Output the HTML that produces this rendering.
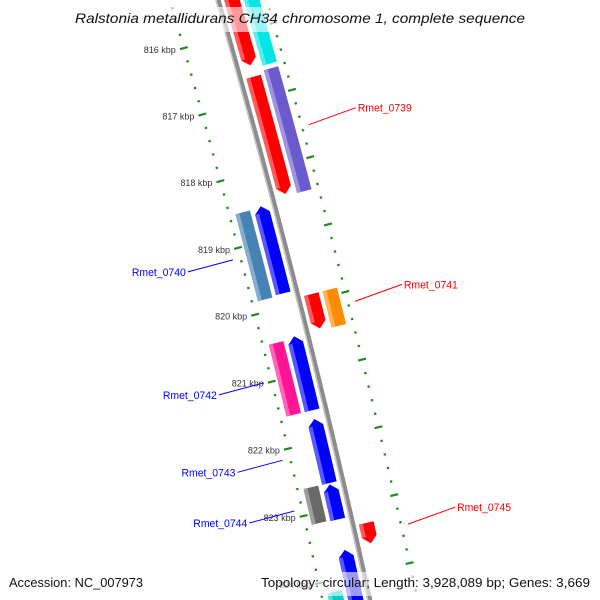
<!DOCTYPE html>
<html><head><meta charset="utf-8"><style>
html,body{margin:0;padding:0;background:#fff;width:600px;height:600px;overflow:hidden;}
svg{display:block;font-family:"Liberation Sans",sans-serif;overflow:hidden;}
</style></head><body>
<svg id="map" width="600" height="600" viewBox="0 0 600 600" xmlns="http://www.w3.org/2000/svg">
<g id="rulers"></g>
<g id="genes"></g>
<g id="backbone"></g>
<g id="labels"></g>
<g id="overlay">
<rect x="70" y="7" width="460" height="25" fill="#fff" fill-opacity="0.6"/>
<text x="75" y="23" font-size="14" font-style="italic" fill="#111" textLength="450" lengthAdjust="spacingAndGlyphs">Ralstonia metallidurans CH34 chromosome 1, complete sequence</text>
<rect x="5" y="572" width="143" height="24" fill="#fff" fill-opacity="0.6"/>
<text x="9" y="587" font-size="13" fill="#111" textLength="134" lengthAdjust="spacingAndGlyphs">Accession: NC_007973</text>
<rect x="256" y="572" width="340" height="24" fill="#fff" fill-opacity="0.6"/>
<text x="261" y="587" font-size="13" fill="#111" textLength="329" lengthAdjust="spacingAndGlyphs">Topology: circular; Length: 3,928,089 bp; Genes: 3,669</text>
</g>
</svg>
<script>
// ---- data ----
const geneNames  = ["gene-a","cog-a","Rmet_0739","cog-0739","Rmet_0740","cog-0740","Rmet_0741","cog-0741","Rmet_0742","cog-0742","Rmet_0743","Rmet_0744","cog-0744","Rmet_0745","gene-b","cog-b"];
const geneStarts = [815.0,815.0,816.67,816.62,818.50,818.52,819.91,819.91,820.44,820.47,821.67,822.64,822.62,823.30,823.61,824.17];
const geneEnds   = [816.50,816.55,818.42,818.45,819.80,819.82,820.42,820.45,821.54,821.54,822.62,823.16,823.15,823.60,825.0,825.0];
const geneLanes  = [1,2,1,2,-1,-2,1,2,-1,-2,-1,-1,-2,1,-1,-2];
const geneColors = ["#ff0000","#00e5e5","#ff0000","#6a5acd","#0000ff","#4682b4","#ff0000","#ff8c00","#0000ff","#ff1493","#0000ff","#0000ff","#696969","#ff0000","#0000ff","#00cccc"];
const labelled   = [false,false,true,false,true,false,true,false,true,false,true,true,false,true,false,false];
const majorTicks = [815,816,817,818,819,820,821,822,823,824,825];
const tickLabels = ["815 kbp","816 kbp","817 kbp","818 kbp","819 kbp","820 kbp","821 kbp","822 kbp","823 kbp","824 kbp","825 kbp"];

// ---- axis (circular map projection) ----
const CX=-9202.4, CY=2701.3, R=9800, PHI0=74.216, DPHI=0.4053, K0=816;
function pos(k,r){const p=(PHI0+(k-K0)*DPHI)*Math.PI/180;return [CX+(R+r)*Math.sin(p),CY-(R+r)*Math.cos(p)];}
const NS="http://www.w3.org/2000/svg";
function mk(tag,parent){const e=document.createElementNS(NS,tag);parent.appendChild(e);return e;}
function arcPts(k1,k2,r,n){const a=[];for(let i=0;i<=n;i++){a.push(pos(k1+(k2-k1)*i/n,r));}return a;}
function pstr(a){return a.map(p=>p[0].toFixed(2)+","+p[1].toFixed(2)).join(" ");}
function lighten(c,f){const n=parseInt(c.slice(1),16);let r=n>>16,g=(n>>8)&255,b=n&255;r=Math.round(r+(255-r)*f);g=Math.round(g+(255-g)*f);b=Math.round(b+(255-b)*f);return "rgb("+r+","+g+","+b+")";}

// rulers
const rul=document.getElementById("rulers");
[-46,47].forEach(function(rr){
  for(let i=0;i<=50;i++){
    const k=815+i*0.2;const major=(i%5===0);
    const len=major?4:1.2;
    const a=pos(k,rr-len),b=pos(k,rr+len);
    const t=mk("line",rul);
    
    
    t.setAttribute("x1",a[0]);t.setAttribute("y1",a[1]);t.setAttribute("x2",b[0]);t.setAttribute("y2",b[1]);
    t.setAttribute("stroke","#1f8a1f");t.setAttribute("stroke-width",2.2);
  }
});
majorTicks.forEach(function(k,i){
  const p=pos(k,-46);
  const t=mk("text",rul);
  
  
  t.setAttribute("x",p[0]-8);t.setAttribute("y",p[1]+5);t.setAttribute("text-anchor","end");
  t.setAttribute("font-size","9");t.setAttribute("fill","#333");
  t.textContent=tickLabels[i];
});

// genes
const gg=document.getElementById("genes");
const LANE={1:[6,21],2:[25,40]};
const AR=0.1;
geneNames.forEach(function(nm,i){
  const s=geneStarts[i],e=geneEnds[i],ln=geneLanes[i],col=geneColors[i];
  const sgn=ln>0?1:-1;const lr=LANE[Math.abs(ln)];
  const r1=sgn*lr[0],r2=sgn*lr[1],rm=(r1+r2)/2;
  const arrow=Math.abs(ln)===1;
  let pts;
  if(arrow&&sgn>0){const ea=Math.max(s,e-AR);pts=arcPts(s,ea,r1,8).concat([pos(e,rm)],arcPts(ea,s,r2,8));}
  else if(arrow){const sa=Math.min(e,s+AR);pts=[pos(s,rm)].concat(arcPts(sa,e,r1,8),arcPts(e,sa,r2,8));}
  else{pts=arcPts(s,e,r1,8).concat(arcPts(e,s,r2,8));}
  const poly=mk("polygon",gg);
  
  
  poly.setAttribute("points",pstr(pts));poly.setAttribute("fill",col);
  const hs=sgn>0?r1:r2;const he=hs+4;
  const k1=(arrow&&sgn<0)?Math.min(e,s+AR):s, k2=(arrow&&sgn>0)?Math.max(s,e-AR):e;
  const hl=mk("polygon",gg);
  
  
  hl.setAttribute("points",pstr(arcPts(k1,k2,hs,6).concat(arcPts(k2,k1,he,6))));
  hl.setAttribute("fill",lighten(col,0.35));
});

// backbone
const bb=document.getElementById("backbone");
const b1=mk("polygon",bb);


b1.setAttribute("points",pstr(arcPts(814.5,825,-2.6,30).concat(arcPts(825,814.5,2.6,30))));
b1.setAttribute("fill","#8c8c8c");
const b2=mk("polygon",bb);


b2.setAttribute("points",pstr(arcPts(814.5,825,-2.6,30).concat(arcPts(825,814.5,-1.2,30))));
b2.setAttribute("fill","#c8c8c8");

// labels
const lg=document.getElementById("labels");
geneNames.forEach(function(nm,i){
  if(!labelled[i])return;
  const sgn=geneLanes[i]>0?1:-1;const mid=(geneStarts[i]+geneEnds[i])/2;
  const p=pos(mid,sgn*54);
  const q=sgn>0?[p[0]+47,p[1]-17]:[p[0]-45,p[1]+12];
  const col=sgn>0?"#ff0000":"#0000ff";
  const l=mk("line",lg);
  
  
  l.setAttribute("x1",p[0]);l.setAttribute("y1",p[1]);l.setAttribute("x2",q[0]);l.setAttribute("y2",q[1]);
  l.setAttribute("stroke",col);l.setAttribute("stroke-width","1");
  const t=mk("text",lg);
  
  
  t.setAttribute("x",sgn>0?q[0]+2:q[0]-2);t.setAttribute("y",q[1]+4);
  t.setAttribute("text-anchor",sgn>0?"start":"end");t.setAttribute("font-size","11");t.setAttribute("fill",col);
  t.setAttribute("textLength","54");t.setAttribute("lengthAdjust","spacingAndGlyphs");
  t.textContent=nm;
});
</script>
</body></html>
